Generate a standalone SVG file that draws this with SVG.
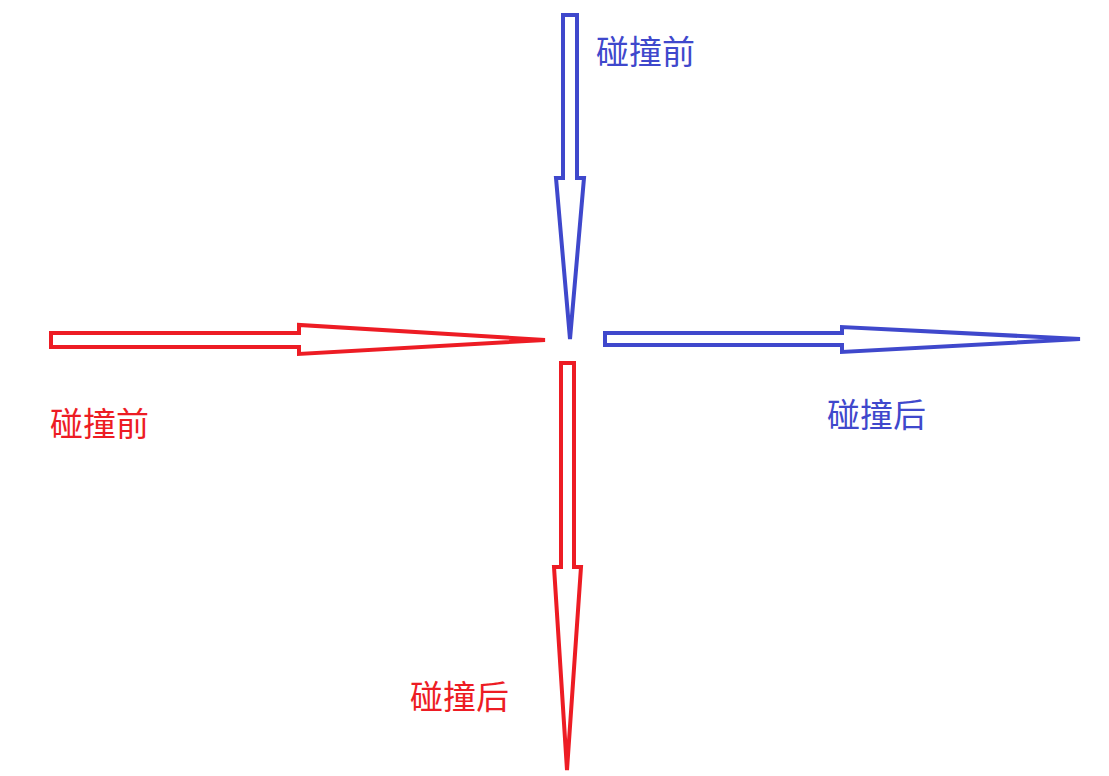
<svg xmlns="http://www.w3.org/2000/svg" width="1109" height="776" viewBox="0 0 1109 776">
<style>
.arr{fill:#fff;stroke-width:4;stroke-linejoin:miter}
.red{stroke:#ED1C24}
.blue{stroke:#3F48CC}
.lbl{font-family:"Noto Sans CJK SC","Microsoft YaHei",sans-serif;font-size:33px}
.tr{fill:#ED1C24}
.tb{fill:#3F48CC}
</style>
<rect width="1109" height="776" fill="#fff"/>
<g id="connectors">
<path id="blue-before" class="arr blue" d="M563,15 H577 V178 H584 L570,339 L556,178 H563 Z"/>
<path id="red-before" class="arr red" d="M51,333 H299 V325 L545,340 L299,354 V347 H51 Z"/>
<path id="blue-after" class="arr blue" d="M605,333 H842 V327 L1080,339 L842,352 V345 H605 Z"/>
<path id="red-after" class="arr red" d="M561,363 H574 V567 H581 L567,770 L554,567 H561 Z"/>
</g>
<g id="label-blue-before"><text class="lbl tb" x="596" y="64">碰撞前</text></g>
<g id="label-red-before"><text class="lbl tr" x="50" y="436">碰撞前</text></g>
<g id="label-blue-after"><text class="lbl tb" x="827" y="427">碰撞后</text></g>
<g id="label-red-after"><text class="lbl tr" x="410" y="709">碰撞后</text></g>
</svg>
